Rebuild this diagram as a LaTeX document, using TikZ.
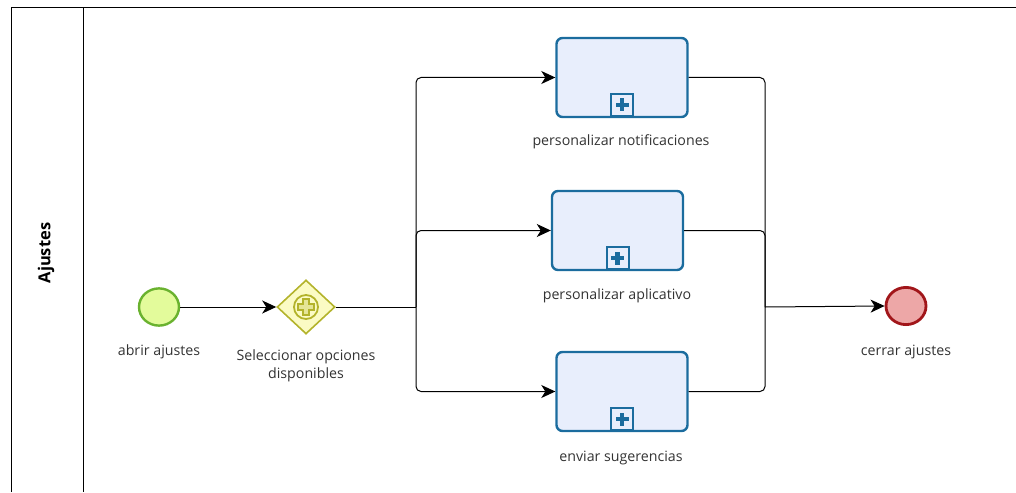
\documentclass[tikz,border=0pt]{standalone}
\usepackage{fontspec}
\setmainfont{Open Sans}
\usetikzlibrary{arrows.meta,shapes.geometric}
\definecolor{taskfill}{HTML}{E8EEFC}
\definecolor{taskdraw}{HTML}{1B6C9E}
\definecolor{startfill}{HTML}{E3FB9B}
\definecolor{startdraw}{HTML}{6AB22F}
\definecolor{gwfill}{HTML}{FBFBC4}
\definecolor{gwdraw}{HTML}{B3B32B}
\definecolor{endfill}{HTML}{EDA7A7}
\definecolor{enddraw}{HTML}{A1161A}
\definecolor{txt}{HTML}{333333}
\tikzset{
  x=1pt,y=-1pt,
  lbl/.style={font=\fontsize{14.2}{17.5}\selectfont,text=txt,align=center,inner sep=0pt},
  task/.style={draw=taskdraw,fill=taskfill,line width=2.4pt,rounded corners=6pt,minimum width=131pt,minimum height=79pt,inner sep=0pt},
  marker/.style={draw=taskdraw,fill=taskfill,line width=2pt,minimum width=22pt,minimum height=22pt,inner sep=0pt},
  flow/.style={draw=black,line width=1pt,rounded corners=5pt,-{Stealth[length=14pt,width=13pt,inset=4pt]}},
  line/.style={draw=black,line width=1pt,rounded corners=5pt},
}
\begin{document}
\begin{tikzpicture}
\useasboundingbox (0,0) rectangle (1016,492);
% pool
\draw[line width=1pt] (1016,8) -- (11,8) -- (11,492);
\draw[line width=1pt] (83,8) -- (83,492);
\node[rotate=90,font=\bfseries\fontsize{16.5}{19}\selectfont] (lane) at (46,253) {Ajustes};
% start
\node[circle,draw=startdraw,fill=startfill,line width=2.4pt,minimum width=40pt,inner sep=0pt,yscale=0.93] (start) at (159,307) {};
\node[lbl] (startl) at (159,352) {abrir ajustes};
% gateway
\node[diamond,draw=gwdraw,fill=gwfill,line width=1.6pt,minimum width=58pt,minimum height=54pt,inner sep=0pt] (gw) at (306,307) {};
\node[circle,draw=gwdraw,line width=1.8pt,minimum size=24pt,inner sep=0pt] (gwc) at (306,307) {};
\draw[draw=gwdraw,line width=1.4pt,fill=gwfill!70!gwdraw] (303,299) -- (309,299) -- (309,304) -- (314,304) -- (314,310) -- (309,310) -- (309,315) -- (303,315) -- (303,310) -- (298,310) -- (298,304) -- (303,304) -- cycle;
\node[lbl] (gwl) at (306,366) {Seleccionar opciones\\disponibles};
% tasks
\node[task] (t1) at (622,77.5) {};
\node[task] (t2) at (617.5,230.5) {};
\node[task] (t3) at (622,391.5) {};
\foreach \t in {t1,t2,t3}{
  \node[marker,anchor=south] (\t m) at ([yshift=1.2pt]\t.south) {};
  \fill[taskdraw] ([xshift=-2.3pt,yshift=-6.5pt]\t m.center) rectangle ([xshift=2.3pt,yshift=6.5pt]\t m.center);
  \fill[taskdraw] ([xshift=-6.5pt,yshift=-2.3pt]\t m.center) rectangle ([xshift=6.5pt,yshift=2.3pt]\t m.center);
}
\node[lbl] (t1l) at (621,142) {personalizar notificaciones};
\node[lbl] (t2l) at (617,296) {personalizar aplicativo};
\node[lbl] (t3l) at (621,458) {enviar sugerencias};
% end
\node[circle,draw=enddraw,fill=endfill,line width=2.8pt,minimum width=40pt,inner sep=0pt,yscale=0.93] (end) at (906,306) {};
\node[lbl] (endl) at (906,352) {cerrar ajustes};
% flows
\coordinate (split) at (416,307);
\coordinate (join) at (765,307);
\draw[flow] (start) -- (gw);
\draw[line] (gw.east) -- (split);
\draw[flow] (split) |- (t1.west);
\draw[flow] (split) |- (t2.west);
\draw[flow] (split) |- (t3.west);
\draw[line] (t1.east) -| (join);
\draw[line] (t2.east) -| (join);
\draw[line] (t3.east) -| (join);
\draw[flow] (join) -- (end.west);
\end{tikzpicture}
\end{document}
